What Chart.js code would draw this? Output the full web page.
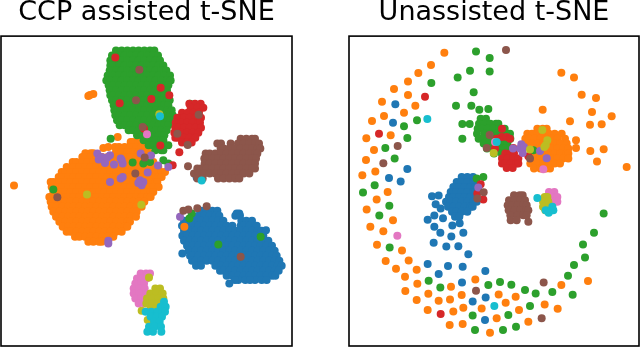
<!DOCTYPE html>
<html>
<head>
<meta charset="utf-8">
<style>
html, body { margin: 0; padding: 0; background: #fff; }
#wrap { position: relative; width: 640px; height: 347px; overflow: hidden; }
canvas { position: absolute; top: 0; }
</style>
<script src="https://cdn.jsdelivr.net/npm/chart.js@4"></script>
</head>
<body>
<div id="wrap">
<canvas id="leftChart" style="left:0"></canvas>
<canvas id="rightChart" style="left:320px"></canvas>
</div>
<script>
// each row is [y, x, x, x ...]
var leftBlue = [
[632,603,620,637,652],[640,710,718],
[647,578,595,612,629,646,658,706,720],
[662,552,569,586,603,620,637,654,670,724,739,756],
[677,546,561,578,595,612,629,646,663,680,697,722,731,748,765,770],
[692,552,569,586,603,620,637,654,671,688,705,722,739,756,773,785],
[707,547,561,578,595,612,629,646,663,680,697,714,731,748,765,782,790],
[722,552,569,586,603,620,637,654,671,688,705,722,739,756,773,790,805],
[737,561,578,595,612,629,646,663,680,697,714,731,748,765,782,799,816],
[752,566,586,603,620,637,654,671,688,705,722,739,756,773,790,807,824],
[760,547],
[767,570,578,595,612,629,646,663,680,697,714,731,748,765,782,799,816,830],
[782,576,586,603,620,637,654,671,688,705,722,739,756,773,790,807,824,838],
[797,588,603,646,663,680,697,714,731,748,765,782,799,816,833,845],
[812,660,671,688,705,722,739,756,773,790,807,824,836],
[827,680,697,714,731,748,765,782,799,816,826],
[840,715,705,736,765,750,785,800],[850,688],
[690,798],[532,590]
];
var leftOrange = [
[281,280],[284,270],[287,265],[410,353],[443,310],[440,325],
[425,392,399,416],
[440,345,357,374,391,408,425,435],
[455,348,365,382,399,416,433,445],
[459,256,272,280],
[470,247,255,272,289,306,323,340,357,374,391,408,425,442,450],
[485,218,229,246,263,280,297,314,331,348,365,382,399,416,433,450,460],
[500,200,221,238,255,272,289,306,323,340,357,374,391,408,425,442,459,475],
[515,185,195,212,229,246,263,280,297,314,331,348,365,382,399,416,433,450,467,484,495],
[530,176,187,204,221,238,255,272,289,306,323,340,357,374,391,408,425,442,459,476,485],
[545,152,161,178,195,212,229,246,263,280,297,314,331,348,365,382,399,416,433,450,467,472],
[556,42],
[560,155,170,187,204,221,238,255,272,289,306,323,340,357,374,391,408,425,442,459,476],
[575,160,178,195,212,229,246,263,280,297,314,331,348,365,382,399,416,433,450,460],
[590,148,153,170,187,204,221,238,255,272,289,306,323,340,357,374,391,408,425,442,452],
[605,152,161,178,195,212,229,246,263,280,297,314,331,348,365,382,399,416,433],
[620,155,170,187,204,221,238,255,272,289,306,323,340,357,374,391,408,425],
[635,160,178,195,212,229,246,263,280,297,314,331,348,365,382,399,410],
[650,168,187,204,221,238,255,272,289,306,323,340,357,374,391,408],
[665,178,195,212,229,246,263,280,297,314,331,348,365,382,390],
[680,188,204,221,238,255,272,289,306,323,340,357,374,382],
[680,553],
[695,200,212,229,246,263,280,297,314,331,348,365],
[710,225,238,255,272,289,306,323,340],
[725,265,280,297,305]
];
var leftGreen = [
[150,348,365,382,399,416,433,450,463],
[165,336,357,374,391,408,425,442,459,474],
[180,331,348,365,382,399,416,433,450,467,480],
[195,331,340,357,374,391,408,425,442,459,476,490],
[210,329,348,365,382,399,416,433,450,467,484,499],
[225,323,340,357,374,391,408,425,442,459,476,493,510],
[240,319,331,348,365,382,399,416,433,450,467,484,501,512],
[255,326,340,357,374,391,408,425,442,459,476,493,505],
[270,329,348,365,382,399,416,433,450,467,484,501],
[285,331,340,357,374,391,408,425,442,459,476,493,505],
[300,336,348,365,382,399,416,433,450,467,484,501,509],
[315,341,357,374,391,408,425,442,459,476,493,505],
[330,343,348,365,382,399,416,433,450,467,484,501,515],
[345,346,357,374,391,408,425,442,459,476,493,510,518],
[360,351,365,382,399,416,433,450,467,484,501,510],
[375,359,374,391,408,425,442,459,476,493,505],
[390,386,399,416,433,450,467,484,500],
[405,411,425,442,459,476,493],
[420,431,450,467,484,490],
[435,446,459,476,495,505],
[450,466,484,490],
[415,332],[568,160],[487,398],[490,430],[485,450],[480,490],[490,505],[310,570],[640,575],[655,568],[733,655],[710,782]
];
var leftRed = [
[171,346],[262,482],[285,508],[309,359],[296,454],[436,481],[456,538],[495,518],[385,432],
[310,568,585,602],
[322,572,593,610],
[337,546,563,580,597],
[352,532,552,569,586,603],
[367,527,544,561,578,595,600],
[382,526,535,552,569,586,603],
[397,523,544,561,578,595],
[412,526,535,552,569,586],
[427,546,560,575]
];
var leftPurple = [
[460,292],[478,296],[470,305],[488,315],[465,330],[472,322],[493,342],[480,365],[490,368],[475,362],[460,422],[466,453],[496,474],[500,505],[517,443],
[545,330],[535,362],[530,368],[540,420],[545,430],[555,425],[548,415],[722,325],[730,325],[650,540]
];
var leftBrown = [
[208,418],[300,408],[380,428],[400,532],[434,563],[343,596],[472,434],[520,406],[591,172],
[498,564],[505,765],[628,565],[632,550],[624,592],[618,620],[770,722],
[415,722,739,756,765],
[430,652,663,692,714,731,748,765,777],
[445,662,671,688,705,722,739,756,773,781],
[460,617,629,646,663,680,697,714,731,748,765,772],
[475,613,620,637,654,671,688,705,722,739,756,768],
[490,614,629,646,663,680,697,714,731,748,765],
[505,592,603,620,637,654,671,688,705,722,739,756],
[520,582,595,612,629,646,663,680,697,714,731,748],
[535,592,608,654,671,688,705,718]
];
var leftPink = [
[402,441],
[820,422,438,450],
[835,411,428,440],
[850,406,423,432],
[865,401,418,434],
[880,401,418,438],
[895,406,423,435],
[910,416,433]
];
var leftOlive = [
[342,478],[583,261],[614,424],[832,447],[932,425],[960,443],
[865,466,480],
[880,451,468,488],
[895,441,458,475,490],
[910,439,456,473,485],
[925,452,470]
];
var leftCyan = [
[348,480],[541,605],
[905,492],
[920,482,497],
[935,437,454,471,488,495],
[950,452,469,486],
[965,462,479],
[980,447,464,483],
[995,442,459,484]
];

var rightBlue = [
[312,226],[367,219],[506,262],[533,207],[544,242],[588,336],[586,356],[612,347],[625,362],[659,323],[646,343],[654,369],[680,343],[676,397],[669,419],[698,361],[709,394],[698,430],[728,341],[739,379],[738,415],[762,445],[792,323],[798,384],[800,428],[822,356],[813,496],[847,426],[892,497],[904,458],[960,495],
[530,425,442,459],
[545,410,425,442,460],
[560,400,417,434,451,465],
[575,392,408,425,442,459,465],
[590,387,400,417,434,451,468],
[605,378,392,408,425,442,459,470],
[620,384,400,417,434,451,458],
[635,396,408,425,442],
[650,405,418]
];
var rightOrange = [
[157,373],[194,333],[218,295],[243,264],[266,222],[284,264],[304,186],[316,286],[337,252],[347,192],[362,156],[414,139],[405,212],[449,162],[479,138],[514,166],[525,127],[575,203],[598,170],[628,140],[660,219],[680,151],[693,190],[734,171],[751,246],[783,197],[781,266],[806,228],[809,290],[830,255],[851,292],[873,256],[881,325],[900,290],[902,356],[930,323],[898,390],[885,425],[934,400],[923,430],[975,389],[972,428],[860,393],[838,466],[883,536],[890,587],[925,485],[955,530],[930,597],[908,557],[913,674],[926,713],[965,625],[998,510],[855,724],[843,804],
[217,724],[231,762],[283,785],[293,828],[335,816],[348,875],[373,810],[372,845],[363,750],[328,668],[420,768],[443,768],[452,811],[447,851],[484,831],[500,920],
[385,652,668,680],
[400,622,636,653,670,687,704,725],
[415,616,627,644,661,678,695,712,735],
[430,621,636,653,670,687,704,721,740],
[445,636,644,661,678,695,712,729,745],
[460,641,653,670,687,704,721,738,745],
[475,636,644,661,678,695,712,729,745],
[490,631,653,670,687,704,720],
[505,642,661,678,690]
];
var rightGreen = [
[153,468],[173,509],[211,450],[213,509],[231,413],[248,334],[276,461],[316,408],[316,454],[328,478],[326,505],[360,291],[371,427],[371,449],[378,252],[413,262],[415,427],[443,196],[475,224],[555,164],[577,129],[617,208],[646,178],[742,209],[842,326],[862,361],[855,505],[846,540],[854,574],[870,615],[880,647],[876,697],[884,758],[946,458],[945,565],[918,630],[990,465],[990,549],[980,588],[772,795],[795,762],[827,744],[733,789],[698,822],[640,851],[530,490],[535,470],
[355,482,498],
[370,477,494,511,528,535],
[385,473,486,503,520,537,554],
[400,471,494,511,528,545,562,570],
[415,476,486,503,520,537,554,571],
[430,491,511,528,545,562],
[445,501,520,537,554,565],
[460,522,545,550],
[450,640]
];
var rightRed = [
[289,315],[400,177],[942,362],[385,546],[410,545,560],[415,530,570],[445,525],[443,580],[468,625],[552,482],[580,472],[598,490],
[460,556,572,582],
[475,546,563,580,595],
[490,546,555,572,589,595],
[503,560,578]
];
var rightPurple = [
[562,475],[445,579],[432,604],[445,600],[458,608],[440,612],[452,660],[474,680]
];
var rightBrown = [
[149,558],[437,233],[489,190],[404,509],[443,500],[475,630],[595,472],[576,491],[872,468],[847,671],[955,665],[665,625],
[585,582,599,608],
[600,567,584,601,615],
[615,563,576,593,610,620],
[630,566,584,601,618,625],
[645,571,593,610,620],
[660,572,590]
];
var rightPink = [
[707,232],[507,670],[425,525],
[575,687,703],
[590,682,695,712],
[605,687,703,712]
];
var rightOlive = [
[389,667],[420,682],[435,677],[440,673],[448,630],[458,521],
[590,674,682],
[605,669,685],
[620,669,686,695],
[630,676,690]
];
var rightCyan = [
[356,322],[425,530],[593,652],[918,523],
[620,697],
[630,677,694,700],
[638,686]
];

var tab10 = ['#1f77b4', '#ff7f0e', '#2ca02c', '#d62728', '#9467bd', '#8c564b', '#e377c2', '#bcbd22', '#17becf'];

function rows(list) {
    var out = [];
    list.forEach(function (r) {
        for (var i = 1; i < r.length; i++) out.push({ x: r[i], y: r[0] });
    });
    return out;
}

// frame round the plot, matplotlib style
var framePlugin = {
    id: 'frame',
    afterDraw: function (chart) {
        var a = chart.chartArea, c = chart.ctx;
        c.save();
        c.strokeStyle = '#000';
        c.lineWidth = 1.6;
        c.strokeRect(a.left, a.top, a.right - a.left, a.bottom - a.top);
        c.restore();
    }
};

function makeChart(id, title, groups, xMin, xMax, pad) {
    return new Chart(document.getElementById(id), {
        type: 'scatter',
        data: {
            datasets: groups.map(function (g, i) {
                return {
                    data: rows(g),
                    backgroundColor: tab10[i],
                    borderWidth: 0,
                    pointRadius: 4,
                    order: groups.length - i
                };
            })
        },
        options: {
            responsive: false,
            animation: false,
            layout: { padding: pad, autoPadding: false },
            plugins: {
                legend: { display: false },
                tooltip: { enabled: false },
                title: {
                    display: true,
                    text: title,
                    color: '#000',
                    font: { family: 'DejaVu Sans', size: 27, weight: 'normal', lineHeight: 0.93 },
                    padding: { top: 0, bottom: 11 }
                }
            },
            scales: {
                x: { display: false, min: xMin, max: xMax },
                y: { display: false, min: 107, max: 1038, reverse: true }
            }
        },
        plugins: [framePlugin]
    });
}

var lc = document.getElementById('leftChart'), rc = document.getElementById('rightChart');
lc.width = 320; lc.height = 347; rc.width = 320; rc.height = 347;

makeChart('leftChart', 'CCP assisted t-SNE',
    [leftBlue, leftOrange, leftGreen, leftRed, leftPurple, leftBrown, leftPink, leftOlive, leftCyan],
    3, 876, { left: 1, right: 28, bottom: 1 });
makeChart('rightChart', 'Unassisted t-SNE',
    [rightBlue, rightOrange, rightGreen, rightRed, rightPurple, rightBrown, rightPink, rightOlive, rightCyan],
    87, 957, { left: 29, right: 1, bottom: 1 });
</script>
</body>
</html>
